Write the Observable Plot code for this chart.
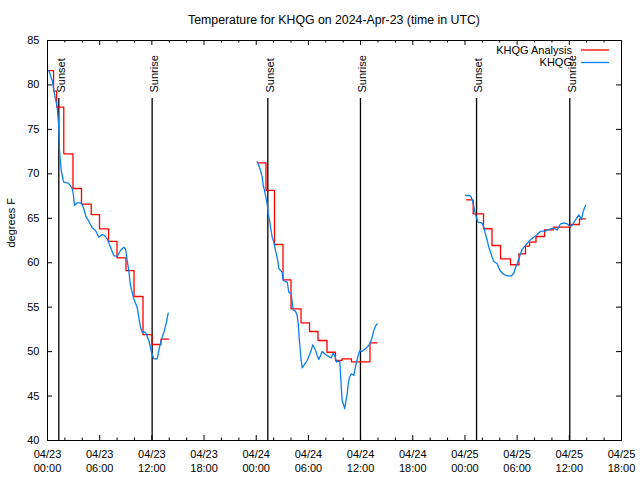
<!DOCTYPE html>
<html><head><meta charset="utf-8">
<script src="https://cdn.jsdelivr.net/npm/d3@7"></script>
<script src="https://cdn.jsdelivr.net/npm/@observablehq/plot@0.6"></script>
<style>
body{margin:0;background:#fff;font-family:"Liberation Sans",Arial,sans-serif;}
#title{height:30px;box-sizing:border-box;padding:13px 19px 0 47px;text-align:center;font-size:12.3px;line-height:14px;color:#000;white-space:nowrap;}
</style></head><body>
<div id="title">Temperature for KHQG on 2024-Apr-23 (time in UTC)</div>
<div id="chart"></div>
<script>
// hours since 2024-04-23 00:00 UTC, temperature (°F)
const analysis1 = [[0.15,81.6],[0.7,79.3],[1.05,77.5],[1.87,72.25],[2.93,68.35],[3.91,66.6],[5.03,65.4],[5.98,63.8],[7.02,62.4],[7.99,60.55],[9.03,59.1],[9.95,56.2],[10.98,51.9],[12.01,50.8],[13.05,51.4],[13.91,51.4]];
const analysis2 = [[24.23,71.24],[25.12,68.13],[26.1,62.05],[27.08,58.08],[28.0,54.81],[29.15,53.24],[30.13,52.26],[31.1,51.25],[32.14,49.93],[33.11,49.0],[33.86,49.19],[34.95,48.85],[37.08,50.99],[37.91,50.99]];
const analysis3 = [[48.18,67.08],[48.95,65.5],[50.13,63.82],[51.11,61.94],[52.09,60.44],[53.24,59.77],[54.21,61.0],[54.96,61.86],[55.42,62.31],[56.17,62.95],[57.15,63.7],[58.18,64.0],[60.14,64.3],[61.17,64.94],[61.86,64.94]];
const obs1 = [[0.15,81.62],[0.54,80.5],[0.84,78.81],[1.12,77.5],[1.30,75.25],[1.38,72.63],[1.58,70.38],[1.81,69.25],[1.87,69.06],[2.38,68.95],[2.64,68.69],[2.84,68.32],[2.96,67.79],[3.10,66.44],[3.41,66.74],[3.79,66.74],[3.99,66.55],[4.17,66.07],[4.45,65.12],[4.75,64.67],[5.14,63.93],[5.52,63.63],[5.90,62.87],[6.29,63.17],[6.55,63.06],[6.87,62.69],[7.25,61.75],[7.62,60.81],[8.01,60.70],[8.39,61.38],[8.77,61.75],[8.97,61.57],[9.16,60.25],[9.35,59.13],[9.54,57.44],[9.92,55.94],[10.31,55.0],[10.69,52.75],[10.89,52.18],[11.27,52.18],[11.65,51.25],[11.96,49.93],[12.22,49.19],[12.61,49.19],[12.88,50.5],[13.19,51.62],[13.45,52.38],[13.68,53.31],[13.88,54.32]];
const obs2 = [[24.11,71.39],[24.30,70.94],[24.49,70.38],[24.69,69.63],[24.80,68.69],[24.95,68.13],[25.07,67.56],[25.26,66.63],[25.38,65.5],[25.53,64.75],[25.64,64.0],[25.84,62.87],[26.02,62.31],[26.22,61.38],[26.48,60.25],[26.60,59.32],[26.99,58.94],[27.10,58.0],[27.56,57.81],[27.63,57.44],[27.74,56.69],[28.02,56.5],[28.25,54.70],[28.52,54.55],[28.71,54.06],[28.83,53.13],[28.98,51.06],[29.17,49.0],[29.29,48.18],[29.47,48.44],[29.86,49.0],[30.24,49.93],[30.51,50.77],[30.82,50.13],[31.01,49.56],[31.19,49.11],[31.31,49.37],[31.59,50.01],[31.96,49.68],[32.34,49.45],[32.62,49.30],[32.85,49.82],[33.03,49.56],[33.23,48.81],[33.38,48.89],[33.61,48.92],[33.69,47.5],[33.80,45.63],[33.88,44.5],[34.07,43.94],[34.18,43.57],[34.26,44.13],[34.46,45.25],[34.58,46.38],[34.72,47.12],[34.95,47.5],[35.22,47.31],[35.33,47.87],[35.53,48.81],[35.72,49.56],[35.91,50.13],[36.18,50.01],[36.37,50.20],[36.56,50.32],[36.83,50.58],[37.06,50.88],[37.14,51.06],[37.33,51.62],[37.52,52.38],[37.71,52.86],[37.91,53.13]];
const obs3 = [[48.07,67.56],[48.53,67.56],[48.73,67.37],[48.92,66.81],[49.11,65.87],[49.31,65.12],[49.50,64.56],[49.98,64.45],[50.17,64.0],[50.36,63.25],[50.56,62.5],[50.74,61.75],[50.94,61.18],[51.13,60.62],[51.32,60.14],[51.71,59.88],[51.89,59.43],[52.09,59.05],[52.47,58.68],[52.86,58.53],[53.35,58.53],[53.62,58.82],[53.81,59.43],[54.01,59.88],[54.19,60.44],[54.39,61.0],[54.58,61.49],[54.77,61.75],[54.96,61.94],[55.16,62.20],[55.54,62.58],[55.92,62.87],[56.31,63.18],[56.69,63.55],[57.26,63.55],[57.84,63.82],[58.22,63.88],[58.61,63.70],[58.99,64.38],[59.37,64.49],[59.76,64.38],[60.06,64.08],[60.33,64.19],[60.71,64.83],[61.09,65.39],[61.40,64.86],[61.60,65.80],[61.86,66.44]];

const sunsetTimes = ["2024-04-23T01:18Z","2024-04-24T01:20Z","2024-04-25T01:20Z"];
const sunriseTimes = ["2024-04-23T12:02Z","2024-04-24T11:59Z","2024-04-25T12:03Z"];
const seriesNames = ["KHQG Analysis","KHQG"];
const seriesColors = ["#ff0000","#0a80f0"];
const yTicks = [40,45,50,55,60,65,70,75,80,85];
const xStart = "2024-04-23T00:00Z", xEnd = "2024-04-25T18:00Z";
const yLabel = "degrees F";

const t0 = Date.parse(xStart);
const toRows = (pairs, seg) => pairs.map(([h, t]) => ({time: new Date(t0 + h * 3600e3), temp: t, seg}));
const analysisRows = [analysis1, analysis2, analysis3].flatMap((p, i) => toRows(p, i));
const obsRows = [obs1, obs2, obs3].flatMap((p, i) => toRows(p, i));
const events = [
  ...sunsetTimes.map(s => ({time: new Date(s), label: "Sunset"})),
  ...sunriseTimes.map(s => ({time: new Date(s), label: "Sunrise"}))
];
const domainX = [new Date(xStart), new Date(xEnd)];
const majorX = d3.utcHour.every(6).range(domainX[0], new Date(+domainX[1] + 1));
const minorX = d3.utcHour.every(2).range(domainX[0], new Date(+domainX[1] + 1)).filter(d => d.getUTCHours() % 6 !== 0);

const W = 640, H = 450, mL = 47, mR = 19, mT = 10, mB = 40;
const fw = W - mL - mR, fh = H - mT - mB;
const fmt = d3.utcFormat("%m/%d\n%H:%M");

function legend(index, scales, values, dims) {
  const g = d3.create("svg:g").attr("font-size", 11).attr("font-family", "Liberation Sans, Arial, sans-serif");
  const xr = dims.width - dims.marginRight;
  seriesNames.forEach((name, i) => {
    const y = dims.marginTop + 10 + i * 12.5;
    g.append("text").attr("x", xr - 49).attr("y", y).attr("dy", "0.35em")
      .attr("text-anchor", "end").attr("fill", "black").text(name);
    g.append("line").attr("x1", xr - 40).attr("x2", xr - 12).attr("y1", y).attr("y2", y)
      .attr("stroke", seriesColors[i]).attr("stroke-width", 1.3);
  });
  return g.node();
}

const chart = Plot.plot({
  width: W, height: H,
  marginLeft: mL, marginRight: mR, marginTop: mT, marginBottom: mB,
  style: {fontFamily: "Liberation Sans, Arial, sans-serif", fontSize: "11px", color: "black", background: "white"},
  x: {type: "utc", domain: domainX},
  y: {domain: [40, 85]},
  marks: [
    Plot.ruleX(majorX, {insetTop: fh - 5, stroke: "black"}),
    Plot.ruleX(majorX, {insetBottom: fh - 5, stroke: "black"}),
    Plot.ruleX(minorX, {insetTop: fh - 2.5, stroke: "black"}),
    Plot.ruleX(minorX, {insetBottom: fh - 2.5, stroke: "black"}),
    Plot.ruleY(yTicks, {insetRight: fw - 5, stroke: "black"}),
    Plot.ruleY(yTicks, {insetLeft: fw - 5, stroke: "black"}),
    Plot.axisX({ticks: majorX, tickFormat: fmt, tickSize: 0, tickPadding: 8, fontSize: 11, lineHeight: 1.27, label: null}),
    Plot.axisY({ticks: yTicks, tickSize: 0, tickPadding: 8, fontSize: 11, label: null}),
    Plot.text([yLabel], {text: d => d, frameAnchor: "left", rotate: -90, dx: -36, dy: 7, fontSize: 11, fill: "black"}),
    Plot.ruleX(events, {x: "time", insetTop: 58, stroke: "black", strokeWidth: 1.3}),
    Plot.text(events, {x: "time", text: "label", frameAnchor: "top", rotate: -90, textAnchor: "start", dy: 52, dx: -2, fontSize: 11, fill: "black"}),
    Plot.line(analysisRows, {x: "time", y: "temp", z: "seg", curve: "step-after", stroke: seriesColors[0], strokeWidth: 1.3}),
    Plot.line(obsRows, {x: "time", y: "temp", z: "seg", stroke: seriesColors[1], strokeWidth: 1.3}),
    Plot.frame({stroke: "black"}),
    legend
  ]
});
document.getElementById("chart").appendChild(chart);
</script></body></html>
